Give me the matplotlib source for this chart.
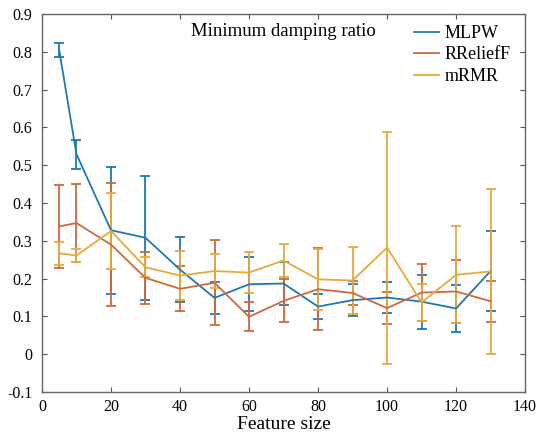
import matplotlib
matplotlib.use("Agg")
import matplotlib.pyplot as plt
from matplotlib.lines import Line2D

plt.rcParams['font.family'] = ['Liberation Serif', 'DejaVu Serif']

feature_size = [5, 10, 20, 30, 40, 50, 60, 70, 80, 90, 100, 110, 120, 130]

mlpw_mean = [0.804, 0.529, 0.328, 0.308, 0.224, 0.149, 0.185, 0.187, 0.126, 0.143, 0.150, 0.139, 0.121, 0.220]
mlpw_err = [0.018, 0.038, 0.168, 0.164, 0.085, 0.043, 0.072, 0.058, 0.033, 0.042, 0.042, 0.071, 0.061, 0.106]

rrelieff_mean = [0.338, 0.347, 0.290, 0.202, 0.173, 0.189, 0.099, 0.141, 0.172, 0.162, 0.122, 0.163, 0.166, 0.140]
rrelieff_err = [0.110, 0.104, 0.163, 0.068, 0.060, 0.113, 0.038, 0.057, 0.108, 0.033, 0.043, 0.076, 0.083, 0.055]

mrmr_mean = [0.267, 0.261, 0.326, 0.230, 0.208, 0.220, 0.216, 0.248, 0.198, 0.195, 0.282, 0.137, 0.210, 0.219]
mrmr_err = [0.031, 0.017, 0.101, 0.026, 0.064, 0.045, 0.055, 0.043, 0.080, 0.088, 0.307, 0.050, 0.128, 0.219]

series_names = ['MLPW', 'RReliefF', 'mRMR']
colors = ['#1f78b4', '#d0683e', '#e8a93e']

x_ticks = [0, 20, 40, 60, 80, 100, 120, 140]
y_ticks = [-0.1, 0, 0.1, 0.2, 0.3, 0.4, 0.5, 0.6, 0.7, 0.8, 0.9]
y_ticklabels = ['-0.1', '0', '0.1', '0.2', '0.3', '0.4', '0.5', '0.6', '0.7', '0.8', '0.9']

fig = plt.figure(figsize=(5.38, 4.38), dpi=100)
ax = fig.add_axes([0.078, 0.105, 0.898, 0.863])

handles = []
for name, m, e, c in zip(series_names,
                         [mlpw_mean, rrelieff_mean, mrmr_mean],
                         [mlpw_err, rrelieff_err, mrmr_err], colors):
    ax.errorbar(feature_size, m, yerr=e, color=c, lw=1.3, elinewidth=1.3,
                capsize=3.3, capthick=1.3)
    handles.append(Line2D([], [], color=c, lw=1.3, label=name))

ax.set_xlim(0, 140)
ax.set_ylim(-0.1, 0.9)
ax.set_xticks(x_ticks)
ax.set_yticks(y_ticks)
ax.set_yticklabels(y_ticklabels)
ax.tick_params(direction='in', top=True, right=True, labelsize=11.5,
               color='#555555', length=3.5, width=0.8)
ax.tick_params(axis='y', pad=7)
ax.tick_params(axis='x', pad=5)
for sp in ax.spines.values():
    sp.set_color('#666666')
    sp.set_linewidth(1.0)

ax.set_xlabel('Feature size', fontsize=14, labelpad=1)
ax.text(0.5, 0.955, 'Minimum damping ratio', transform=ax.transAxes,
        ha='center', va='center', fontsize=13.5)

ax.legend(handles=handles, loc='upper left', frameon=False, fontsize=13,
          handlelength=1.4, handletextpad=0.3, labelspacing=0.25,
          bbox_to_anchor=(0.748, 1.0), borderaxespad=0.2)

fig.savefig('out.png', dpi=100)
